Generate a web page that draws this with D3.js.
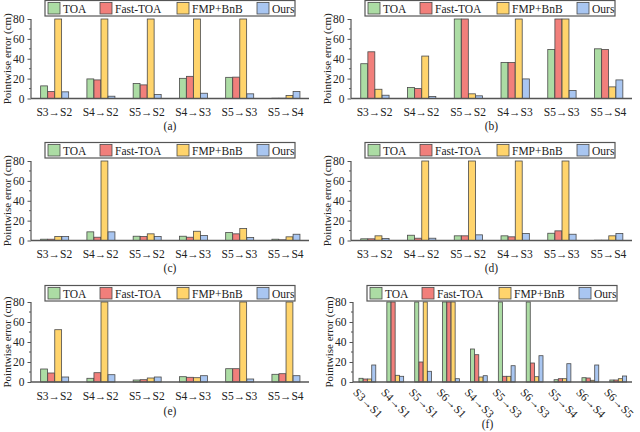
<!DOCTYPE html>
<html>
<head>
<meta charset="utf-8">
<script src="https://cdn.jsdelivr.net/npm/d3@7"></script>
<style>
  body { margin: 0; background: #fff; }
  svg text { font-family: "Liberation Serif", "Times New Roman", "DejaVu Serif", serif; }
</style>
</head>
<body>
<div id="chart"></div>
<script>
var methods = ["TOA", "Fast-TOA", "FMP+BnB", "Ours"];
var colors = ["#acdca4", "#f17f7b", "#ffd46c", "#a9c6f1"];

var pairs6 = ["S3\u2192S2", "S4\u2192S2", "S5\u2192S2", "S4\u2192S3", "S5\u2192S3", "S5\u2192S4"];
var pairs10 = ["S3\u2192S1", "S4\u2192S1", "S5\u2192S1", "S6\u2192S1", "S4\u2192S3",
               "S5\u2192S3", "S6\u2192S3", "S5\u2192S4", "S6\u2192S4", "S6\u2192S5"];

var yTicks = [0, 20, 40, 60, 80];
var yMinor = [10, 30, 50, 70];

// values above 80 are cut at the top of the axis
var toaA  = [12.7, 19.7, 15, 20.3, 21.3, 0.3];
var fastA = [7, 18.7, 13.7, 22.3, 21.5, 0.3];
var fmpA  = [80, 80, 80, 80, 80, 3];
var oursA = [6.7, 2.3, 4, 5.3, 4.7, 7];

var toaB  = [35, 11, 80, 36.3, 49.3, 50];
var fastB = [47, 10, 80, 36.3, 80, 49.3];
var fmpB  = [9.3, 42.7, 4.7, 80, 80, 11.7];
var oursB = [3.3, 2, 2.7, 19.7, 8, 18.7];

var toaC  = [1.3, 8.7, 4.3, 4.3, 8, 1.3];
var fastC = [1.3, 3.3, 4, 3.3, 6.7, 0.7];
var fmpC  = [4, 80, 6.7, 9.3, 12, 3.7];
var oursC = [4, 8.7, 4, 5, 3, 6.3];

var toaD  = [1.7, 5.3, 4.7, 4.7, 7.3, 0.3];
var fastD = [1.7, 2.3, 4.7, 3.7, 9.7, 0.3];
var fmpD  = [4.7, 80, 80, 80, 80, 4.7];
var oursD = [2, 2.3, 5.7, 7, 6.3, 7];

var toaE  = [13, 3.7, 2, 5.3, 13.3, 7.7];
var fastE = [9, 9.3, 2.3, 4.7, 13.3, 8.3];
var fmpE  = [52.3, 80, 4, 4.3, 80, 80];
var oursE = [5, 7.3, 5, 6.3, 3, 6.3];

var toaF  = [3.7, 80, 80, 80, 33, 80, 80, 2.3, 4.3, 2];
var fastF = [3, 80, 20, 80, 27.3, 5.7, 19, 3.3, 4, 2];
var fmpF  = [3, 6.7, 80, 80, 5, 5.7, 5.3, 3.3, 1.7, 3.3];
var oursF = [17, 5.7, 10.7, 3.3, 6.3, 16.3, 26.3, 18.3, 17, 6];

var panels = [
  { id: "(a)", cats: pairs6, vals: [toaA, fastA, fmpA, oursA], left: 31, right: 309, top: 19, bottom: 98.5, legendTop: 0, capY: 130 },
  { id: "(b)", cats: pairs6, vals: [toaB, fastB, fmpB, oursB], left: 351, right: 632, top: 19, bottom: 98.5, legendTop: 0, capY: 130 },
  { id: "(c)", cats: pairs6, vals: [toaC, fastC, fmpC, oursC], left: 31, right: 309, top: 161, bottom: 240.5, legendTop: 142, capY: 272 },
  { id: "(d)", cats: pairs6, vals: [toaD, fastD, fmpD, oursD], left: 351, right: 632, top: 161, bottom: 240.5, legendTop: 142, capY: 272 },
  { id: "(e)", cats: pairs6, vals: [toaE, fastE, fmpE, oursE], left: 31, right: 309, top: 302, bottom: 382, legendTop: 285, capY: 415 },
  { id: "(f)", cats: pairs10, vals: [toaF, fastF, fmpF, oursF], left: 353, right: 632, top: 302, bottom: 382, legendTop: 285, capY: 428, rotate: true }
];

var width = 640,
    height = 432;
var serif = "'Liberation Serif', 'Times New Roman', serif";

var svg = d3.select("#chart").append("svg")
    .attr("width", width)
    .attr("height", height)
    .style("font-family", serif);

var axisColor = "#555";

panels.forEach(drawPanel);

function drawPanel(p) {
    var g = svg.append("g");

    var x = d3.scaleBand()
        .domain(p.cats)
        .range([p.left, p.right])
        .paddingInner(0.39)
        .paddingOuter(0.2);

    var xs = d3.scaleBand()
        .domain(methods)
        .range([0, x.bandwidth()]);

    var y = d3.scaleLinear()
        .domain([0, 80])
        .range([p.bottom, p.top]);

    // bars
    var groups = g.selectAll(".grp").data(p.cats).enter().append("g")
        .attr("class", "grp")
        .attr("transform", function(d) { return "translate(" + x(d) + ",0)"; });

    groups.selectAll("rect")
        .data(function(d, i) {
            return methods.map(function(m, k) { return { m: m, k: k, v: p.vals[k][i] }; });
        })
        .enter().append("rect")
        .attr("x", function(d) { return xs(d.m) + 0.4; })
        .attr("y", function(d) { return y(d.v); })
        .attr("width", xs.bandwidth() - 0.2)
        .attr("height", function(d) { return Math.max(0, y(0) - y(d.v)); })
        .attr("fill", function(d) { return colors[d.k]; })
        .attr("stroke", "#4a4a4a")
        .attr("stroke-width", 0.8);

    // y axis
    var yAxis = g.append("g")
        .attr("transform", "translate(" + p.left + ",0)")
        .call(d3.axisLeft(y).tickValues(yTicks).tickSize(3.5).tickPadding(3));
    yAxis.attr("font-family", serif);
    yAxis.select(".domain").attr("stroke", axisColor).attr("stroke-width", 1.2)
        .attr("d", "M0," + p.bottom + "V" + p.top);
    yAxis.selectAll(".tick line").attr("stroke", axisColor).attr("stroke-width", 1);
    yAxis.selectAll(".tick text")
        .attr("fill", "#222")
        .style("font-size", "11.5px")
        .style("font-family", serif);

    g.append("g").selectAll("line").data(yMinor).enter().append("line")
        .attr("x1", p.left - 2)
        .attr("x2", p.left)
        .attr("y1", function(d) { return y(d); })
        .attr("y2", function(d) { return y(d); })
        .attr("stroke", axisColor)
        .attr("stroke-width", 1);

    // x axis line
    g.append("line")
        .attr("x1", p.left)
        .attr("x2", p.right)
        .attr("y1", p.bottom)
        .attr("y2", p.bottom)
        .attr("stroke", axisColor)
        .attr("stroke-width", 1.3);

    // category labels
    var lab = g.append("g").selectAll("text").data(p.cats).enter().append("text")
        .text(function(d) { return d; })
        .attr("fill", "#222")
        .style("font-family", serif)
        .style("font-size", "11.5px");
    if (p.rotate) {
        lab.attr("text-anchor", "middle")
            .attr("dominant-baseline", "central")
            .attr("transform", function(d) {
                return "translate(" + (x(d) + x.bandwidth() / 2 + 1) + "," + (p.bottom + 21) + ") rotate(45)";
            });
    } else {
        lab.attr("text-anchor", "middle")
            .attr("x", function(d) { return x(d) + x.bandwidth() / 2; })
            .attr("y", p.bottom + 17.5);
    }

    // y label
    g.append("text")
        .attr("transform", "translate(" + (p.left - 20) + "," + ((p.top + p.bottom) / 2) + ") rotate(-90)")
        .attr("text-anchor", "middle")
        .attr("fill", "#222")
        .style("font-family", serif)
        .style("font-size", "11px")
        .text("Pointwise error (cm)");

    // caption
    g.append("text")
        .attr("x", (p.left + p.right) / 2 - (p.rotate ? 5 : 0))
        .attr("y", p.capY)
        .attr("text-anchor", "middle")
        .attr("fill", "#222")
        .style("font-family", serif)
        .style("font-size", "11.5px")
        .text(p.id);

    // legend
    var lg = g.append("g")
        .attr("transform", "translate(" + (p.left + 14) + "," + p.legendTop + ")");
    lg.append("rect")
        .attr("x", 0)
        .attr("y", 0.5)
        .attr("width", 250)
        .attr("height", 15.5)
        .attr("fill", "#fff")
        .attr("stroke", axisColor)
        .attr("stroke-width", 1.2);
    var offs = [3, 55, 132, 212];
    var items = lg.selectAll(".item").data(methods).enter().append("g")
        .attr("class", "item")
        .attr("transform", function(d, i) { return "translate(" + offs[i] + ",0)"; });
    items.append("rect")
        .attr("x", 0)
        .attr("y", 2.5)
        .attr("width", 12)
        .attr("height", 11.5)
        .attr("fill", function(d, i) { return colors[i]; })
        .attr("stroke", "#4a4a4a")
        .attr("stroke-width", 0.8);
    items.append("text")
        .attr("x", 15)
        .attr("y", 12.5)
        .attr("fill", "#222")
        .style("font-family", serif)
        .style("font-size", "11.5px")
        .text(function(d) { return d; });
}
</script>
</body>
</html>
